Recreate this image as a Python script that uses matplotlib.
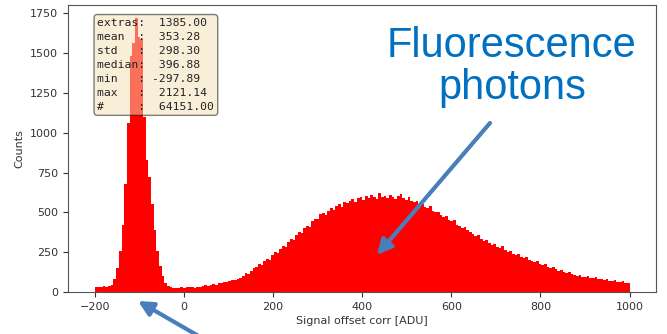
import numpy as np
import matplotlib
matplotlib.use("Agg")
import matplotlib.pyplot as plt

# Histogram of offset-corrected signal, 6 ADU bins from -200 to 1000
bin_start = -200
bin_width = 6
counts = [
    30, 34, 33, 37, 36, 40, 46, 80, 150, 260,
    420, 680, 1060, 1480, 1560, 1720, 1600, 1590, 1100, 830,
    720, 550, 390, 260, 165, 100, 60, 40, 30, 26,
    24, 27, 31, 29, 34, 30, 33, 28, 35, 32,
    38, 44, 40, 47, 52, 48, 57, 55, 62, 66,
    72, 76, 74, 86, 92, 104, 118, 114, 132, 150,
    158, 176, 172, 196, 210, 204, 232, 250, 244, 272,
    292, 286, 318, 334, 328, 358, 380, 372, 402, 418,
    412, 446, 462, 456, 488, 496, 484, 512, 526, 518,
    540, 552, 536, 564, 558, 572, 586, 566, 590, 598,
    578, 602, 588, 610, 594, 586, 622, 598, 604, 588,
    610, 596, 586, 602, 614, 592, 580, 598, 574, 566,
    572, 548, 556, 534, 528, 540, 512, 502, 506, 484,
    470, 478, 452, 444, 452, 424, 418, 404, 410, 388,
    376, 368, 352, 360, 336, 322, 330, 308, 296, 302,
    284, 278, 288, 262, 254, 260, 240, 232, 238, 222,
    214, 220, 202, 196, 188, 194, 176, 170, 174, 160,
    152, 158, 144, 136, 140, 126, 120, 124, 114, 110,
    104, 108, 98, 96, 100, 92, 88, 94, 84, 82,
    78, 80, 72, 70, 74, 66, 64, 68, 60, 56,
]

stat_names = ["extras", "mean", "std", "median", "min", "max", "#"]
stat_values = [1385.00, 353.28, 298.30, 396.88, -297.89, 2121.14, 64151.00]

x_ticks = [-200, 0, 200, 400, 600, 800, 1000]
y_ticks = [0, 250, 500, 750, 1000, 1250, 1500, 1750]

edges = bin_start + bin_width * np.arange(len(counts) + 1)
centers = 0.5 * (edges[:-1] + edges[1:])

fig = plt.figure(figsize=(6.67, 3.34), dpi=100)
ax = fig.add_axes([0.102, 0.125, 0.882, 0.86])

ax.hist(centers, bins=edges, weights=counts, color="red", histtype="stepfilled")
ax.set_xlim(-260, 1060)
ax.set_ylim(0, 1800)
ax.set_xticks(x_ticks)
ax.set_yticks(y_ticks)
ax.tick_params(labelsize=8, colors="#333333")
for s in ax.spines.values():
    s.set_edgecolor("#555555")
ax.set_xlabel("Signal offset corr [ADU]", fontsize=8, color="#333333", labelpad=3)
ax.set_ylabel("Counts", fontsize=8, color="#333333")

stats_text = "\n".join(f"{n:<6}: {v: .2f}" for n, v in zip(stat_names, stat_values))
ax.text(0.05, 0.955, stats_text, transform=ax.transAxes, va="top", ha="left",
        family="DejaVu Sans Mono", fontsize=8.2, linespacing=1.5, color="#222222",
        bbox=dict(boxstyle="round", facecolor="wheat", alpha=0.5), zorder=5)

fig.text(512 / 667, 1 - 26 / 334, "Fluorescence\nphotons", ha="center", va="top",
         fontsize=30, family="Liberation Sans", color="#0070C0", linespacing=1.05)

arrow_color = "#4A7EBB"
arrow_props = dict(arrowstyle="-|>", lw=3, color=arrow_color, mutation_scale=22,
                   shrinkA=0, shrinkB=0)
ax.annotate("", xy=(377, 79), xycoords="figure pixels",
            xytext=(490, 211), textcoords="figure pixels",
            arrowprops=arrow_props, annotation_clip=False, zorder=6)
ax.annotate("", xy=(138, 33), xycoords="figure pixels",
            xytext=(202, -4), textcoords="figure pixels",
            arrowprops=arrow_props, annotation_clip=False, zorder=6)

fig.savefig("out.png", dpi=100)
